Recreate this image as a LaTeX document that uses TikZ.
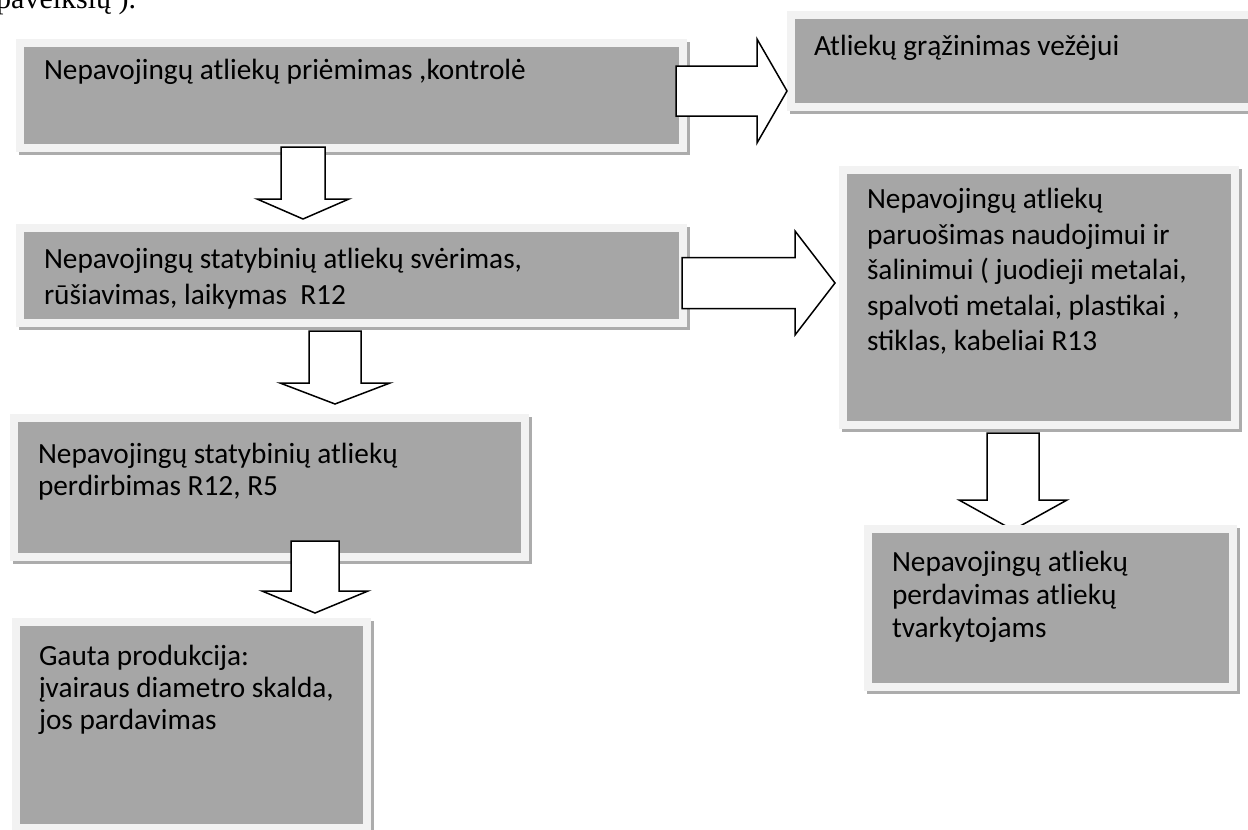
\documentclass[tikz,border=0pt]{standalone}
\usepackage{fontspec}
\setmainfont{Carlito}
\newfontfamily\capserif{Liberation Serif}
\usetikzlibrary{calc, backgrounds}
\definecolor{BoxGray}{RGB}{166,166,166}
\definecolor{FrameGray}{RGB}{242,242,242}
\definecolor{ShadowGray}{RGB}{172,172,172}

\begin{document}
\begin{tikzpicture}[
  x=1pt, y=-1pt,
  stage/.style={rectangle, fill=BoxGray, draw=FrameGray, line width=8pt,
                anchor=north west, inner xsep=24pt, inner ysep=16pt,
                font=\fontsize{29.3}{#1}\selectfont, text=black,
                preaction={draw=ShadowGray, line width=8pt,
                           transform canvas={shift={(3pt,-3pt)}}}},
  stage/.default=35.5,
  blockarrow/.style={fill=white, draw=black, line width=1.5pt},
  downblock/.style n args={3}{to path={
      ($(\tikztostart)+(-#1pt,0pt)$) -- ($(\tikztotarget)+(-#1pt,#3pt)$)
      -- ($(\tikztotarget)+(-#2pt,#3pt)$) -- (\tikztotarget)
      -- ($(\tikztotarget)+(#2pt,#3pt)$) -- ($(\tikztotarget)+(#1pt,#3pt)$)
      -- ($(\tikztostart)+(#1pt,0pt)$) -- cycle}},
  rightblock/.style n args={3}{to path={
      ($(\tikztostart)+(0pt,#1pt)$) -- ($(\tikztotarget)+(-#3pt,#1pt)$)
      -- ($(\tikztotarget)+(-#3pt,#2pt)$) -- (\tikztotarget)
      -- ($(\tikztotarget)+(-#3pt,-#2pt)$) -- ($(\tikztotarget)+(-#3pt,-#1pt)$)
      -- ($(\tikztostart)+(0pt,-#1pt)$) -- cycle}},
]
\useasboundingbox (0,0) rectangle (1248,830);

% cut-off end of the sentence above the scheme
\node[anchor=base west, inner sep=0pt,
      font=\capserif\fontsize{30}{36}\selectfont] (caption) at (-4,8) {paveikslų ).};

% stages
\node[stage, inner ysep=12pt] (recv) at (16,39)
  {\parbox[t][81pt][t]{615pt}{\raggedright\noindent\strut Nepavojingų atliekų priėmimas ,kontrolė}};
\node[stage, inner xsep=23pt] (back) at (787,11)
  {\parbox[t][60pt][t]{423pt}{\raggedright\noindent\strut Atliekų grąžinimas vežėjui}};
\node[stage] (sort) at (16,224)
  {\parbox[t][63pt][t]{615pt}{\raggedright\noindent\strut Nepavojingų statybinių atliekų svėrimas,\\
   rūšiavimas, laikymas\ \ R12}};
\node[stage, inner ysep=14pt] (prep) at (839,166)
  {\parbox[t][227pt][t]{344pt}{\raggedright\noindent\strut Nepavojingų atliekų\\
   paruošimas naudojimui ir\\ šalinimui ( juodieji metalai,\\
   spalvoti metalai, plastikai ,\\ stiklas, kabeliai R13}};
\node[stage=32, inner ysep=22.6pt] (proc) at (10,414)
  {\parbox[t][93.8pt][t]{463pt}{\raggedright\noindent\strut Nepavojingų statybinių atliekų\\
   perdirbimas R12, R5}};
\node[stage=32, inner xsep=23pt, inner ysep=20.6pt] (prod) at (12,618)
  {\parbox[t][164.8pt][t]{305pt}{\raggedright\noindent\strut Gauta produkcija:\\
   įvairaus diametro skalda,\\ jos pardavimas}};
\node[stage=33, inner ysep=18.9pt] (sell) at (864,525)
  {\parbox[t][120.2pt][t]{317pt}{\raggedright\noindent\strut Nepavojingų atliekų\\
   perdavimas atliekų\\ tvarkytojams}};

% block arrows
\coordinate (r1s) at ([shift={(-11pt,4.5pt)}]recv.east);
\coordinate (r1e) at (r1s -| back.west);
\coordinate (a1s) at ([shift={(-48.5pt,5pt)}]recv.south);
\coordinate (a1e) at ($(a1s |- sort.north)+(0pt,5pt)$);
\coordinate (r2s) at ([shift={(-5pt,-7.5pt)}]sort.east);
\coordinate (r2e) at ($(r2s -| prep.west)+(-4pt,0pt)$);
\coordinate (a2s) at ([shift={(-16.5pt,-4pt)}]sort.south);
\coordinate (a2e) at ($(a2s |- proc.north)+(0pt,10pt)$);
\coordinate (a3s) at ([shift={(45.5pt,20pt)}]proc.south);
\coordinate (a3e) at ($(a3s |- prod.north)+(0pt,5pt)$);
\coordinate (a4s) at ([shift={(-26pt,-4pt)}]prep.south);
\coordinate (a4e) at ($(a4s |- sell.north)+(0pt,-5pt)$);

\draw[blockarrow, rightblock={25}{52}{30}] (r1s) to (r1e);
\draw[blockarrow, downblock={22}{46}{20}] (a1s) to (a1e);
\draw[blockarrow, rightblock={25.5}{52}{40}] (r2s) to (r2e);
\draw[blockarrow, downblock={26}{55}{21}] (a2s) to (a2e);
\draw[blockarrow, downblock={24}{53}{22}] (a3s) to (a3e);
\begin{scope}[on background layer]
\draw[blockarrow, downblock={26}{54}{30}] (a4s) to (a4e);
\end{scope}
\end{tikzpicture}
\end{document}
